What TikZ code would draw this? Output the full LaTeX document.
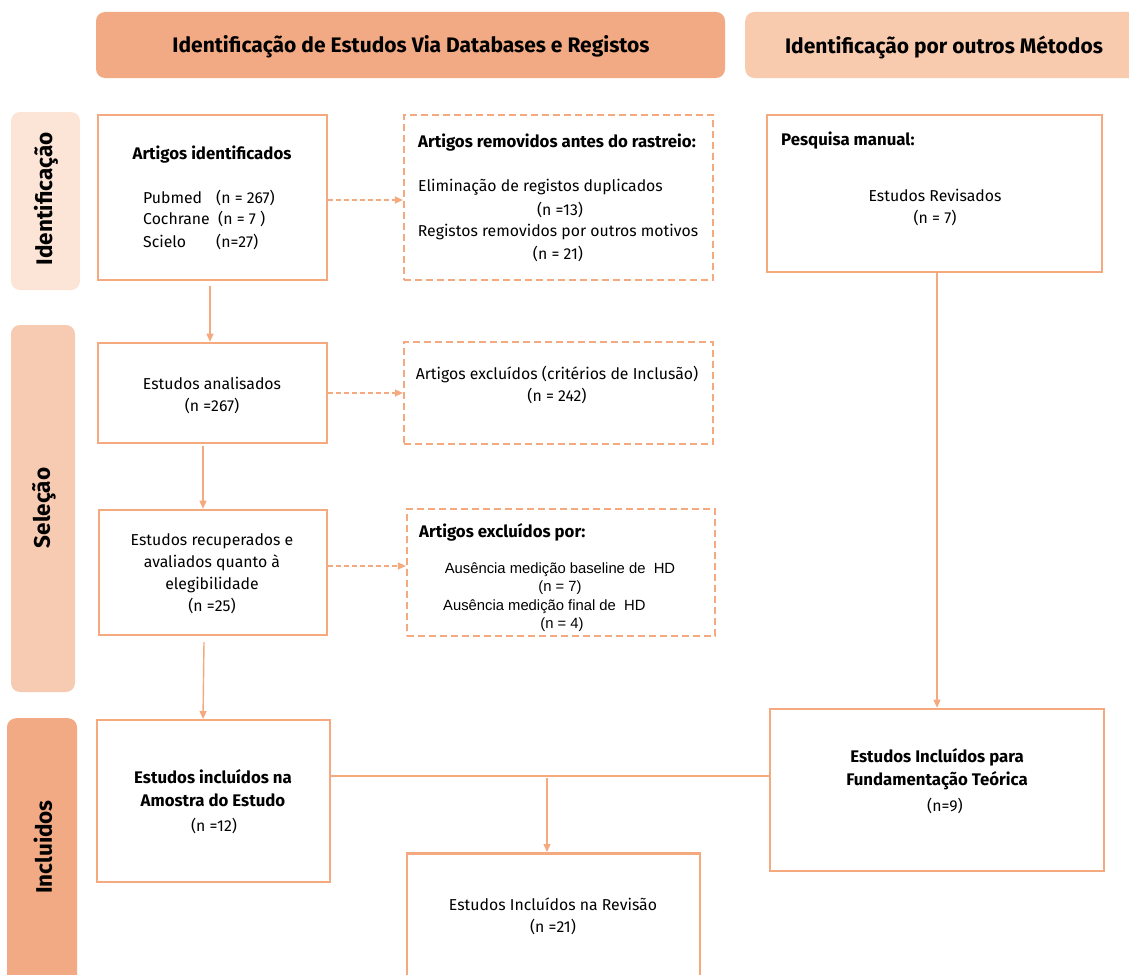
\documentclass[tikz,border=0pt]{standalone}
\usepackage{fontspec}
\setmainfont{Fira Sans}
\newfontfamily\arialfont{Liberation Sans}
\usetikzlibrary{arrows.meta}
\definecolor{edgec}{RGB}{244,169,127}
\definecolor{headA}{RGB}{242,170,132}
\definecolor{headB}{RGB}{248,202,174}
\definecolor{sideA}{RGB}{252,228,214}
\definecolor{sideB}{RGB}{247,203,177}
\definecolor{sideC}{RGB}{242,170,132}
\begin{document}
\begin{tikzpicture}[x=1pt,y=-1pt,
  solidbox/.style={draw=edgec, line width=2.6pt, fill=white, rectangle, inner sep=0pt},
  dashbox/.style={draw=edgec, line width=2.2pt, dash pattern=on 7pt off 4pt, fill=white, rectangle, inner sep=0pt},
  header/.style={rectangle, rounded corners=9pt, inner sep=0pt},
  headtext/.style={font=\fontsize{21}{24}\selectfont\bfseries, inner sep=0pt},
  sidelab/.style={rectangle, rounded corners=9pt, inner sep=0pt},
  sidetext/.style={rotate=90, font=\fontsize{22.5}{26}\selectfont\bfseries, inner sep=0pt},
  txt/.style={font=\fontsize{15.8}{22}\selectfont, inner sep=0pt, align=center},
  btxt/.style={font=\fontsize{16.8}{23}\selectfont\bfseries, inner sep=0pt, align=center},
  atxt/.style={font=\arialfont\fontsize{14.8}{18}\selectfont, inner sep=0pt},
  conn/.style={draw=edgec, line width=1.4pt},
  arr/.style={conn, -{Triangle[length=8pt,width=7pt]}},
  darr/.style={conn, dashed, dash pattern=on 5pt off 3pt, -{Triangle[length=8pt,width=7pt]}}
]
\useasboundingbox (0,0) rectangle (1129,974);

% headers
\node[header, fill=headA, minimum width=629pt, minimum height=66pt] (h1) at (410.5,45) {};
\node[headtext] (h1t) at (411,47) {Identificação de Estudos Via Databases e Registos};
\node[header, fill=headB, minimum width=400pt, minimum height=66pt, anchor=west] (h2) at (745,45) {};
\node[headtext] (h2t) at (944,47) {Identificação por outros Métodos};

% side labels
\node[sidelab, fill=sideA, minimum width=69pt, minimum height=178pt] (s1) at (45.5,201) {};
\node[sidetext] (s1t) at (46,199) {Identificação};
\node[sidelab, fill=sideB, minimum width=64pt, minimum height=367pt] (s2) at (43,508.5) {};
\node[sidetext] (s2t) at (44,508) {Seleção};
\node[sidelab, fill=sideC, minimum width=70pt, minimum height=290pt, anchor=north] (s3) at (42,718) {};
\node[sidetext] (s3t) at (43,847) {Incluidos};

% boxes
\node[solidbox, minimum width=229pt, minimum height=165pt] (A) at (212.5,197.5) {};
\node[dashbox, minimum width=309pt, minimum height=165pt] (B) at (558.5,197.5) {};
\node[solidbox, minimum width=335pt, minimum height=157pt] (C) at (934.5,193.5) {};
\node[solidbox, minimum width=229pt, minimum height=100pt] (D) at (212.5,393) {};
\node[dashbox, minimum width=309pt, minimum height=102pt] (E) at (558.5,393) {};
\node[solidbox, minimum width=228pt, minimum height=125pt] (F) at (213,572.5) {};
\node[dashbox, minimum width=308pt, minimum height=127pt] (G) at (561,572.5) {};
\node[solidbox, minimum width=233pt, minimum height=162pt] (H) at (213.5,801) {};
\node[solidbox, minimum width=293pt, minimum height=140pt, anchor=north] (I) at (553.5,852) {};
\node[solidbox, minimum width=334pt, minimum height=162pt] (J) at (937,790) {};

% texts A
\node[btxt] (At) at (212,155) {Artigos identificados};
\node[txt, align=left, anchor=west] (Al) at (143,220) {\makebox[73pt][l]{Pubmed}(n = 267)\\[-1pt]\makebox[75pt][l]{Cochrane}(n = 7 )\\[1pt]\makebox[73pt][l]{Scielo}(n=27)};
% texts B
\node[btxt, anchor=west] (Bt) at (418,143) {Artigos removidos antes do rastreio:};
\node[txt, anchor=west] (B1) at (418,187) {Eliminação de registos duplicados};
\node[txt] (B2) at (560,210) {(n =13)};
\node[txt] (B3) at (558,232) {Registos removidos por outros motivos};
\node[txt] (B4) at (558,254) {(n = 21)};
% texts C
\node[btxt, anchor=west] (Ct) at (781,141) {Pesquisa manual:};
\node[txt] (C1) at (935,207) {Estudos Revisados\\(n = 7)};
% D, E, F
\node[txt] (D1) at (212,395) {Estudos analisados\\(n =267)};
\node[txt] (E1) at (557,385) {Artigos excluídos (critérios de Inclusão)\\(n = 242)};
\node[txt] (F1) at (212,574) {Estudos recuperados e\\avaliados quanto à\\elegibilidade\\(n =25)};
% G
\node[btxt, anchor=west] (Gt) at (419,532) {Artigos excluídos por:};
\node[atxt] (G1) at (560,570) {Ausência medição baseline de\ \ HD};
\node[atxt] (G2) at (560,588) {(n = 7)};
\node[atxt, anchor=west] (G3) at (443,607) {Ausência medição final de\ \ HD};
\node[atxt] (G4) at (562,625) {(n = 4)};
% H, I, J
\node[btxt] (H1) at (213,788) {Estudos incluídos na\\Amostra do Estudo};
\node[txt] (H2) at (214,826) {(n =12)};
\node[txt] (I1) at (553,916) {Estudos Incluídos na Revisão\\(n =21)};
\node[btxt] (J1) at (937,769) {Estudos Incluídos para\\Fundamentação Teórica};
\node[txt] (J2) at (945,806) {(n=9)};

% connectors
\coordinate (a1) at (210,286);
\draw[arr] (a1) -- (D.north -| a1);
\draw[darr] (A.east |- 0,200) -- (B.west |- 0,200);
\coordinate (d1) at (203,446);
\draw[arr] (d1) -- (F.north -| d1);
\draw[darr] (D.east |- 0,393) -- (E.west |- 0,393);
\draw[darr] (F.east |- 0,566) -- (G.west |- 0,566);
\coordinate (f1) at (204,642);
\coordinate (f2) at (203,719);
\draw[arr] (f1) -- (f2);
\coordinate (c1) at (937,272);
\draw[arr] (c1) -- (J.north -| c1);
\draw[conn, line width=2.2pt] (H.east |- 0,776) -- (J.west |- 0,776);
\coordinate (m1) at (547,778);
\draw[arr] (m1) -- (I.north -| m1);
\end{tikzpicture}
\end{document}
